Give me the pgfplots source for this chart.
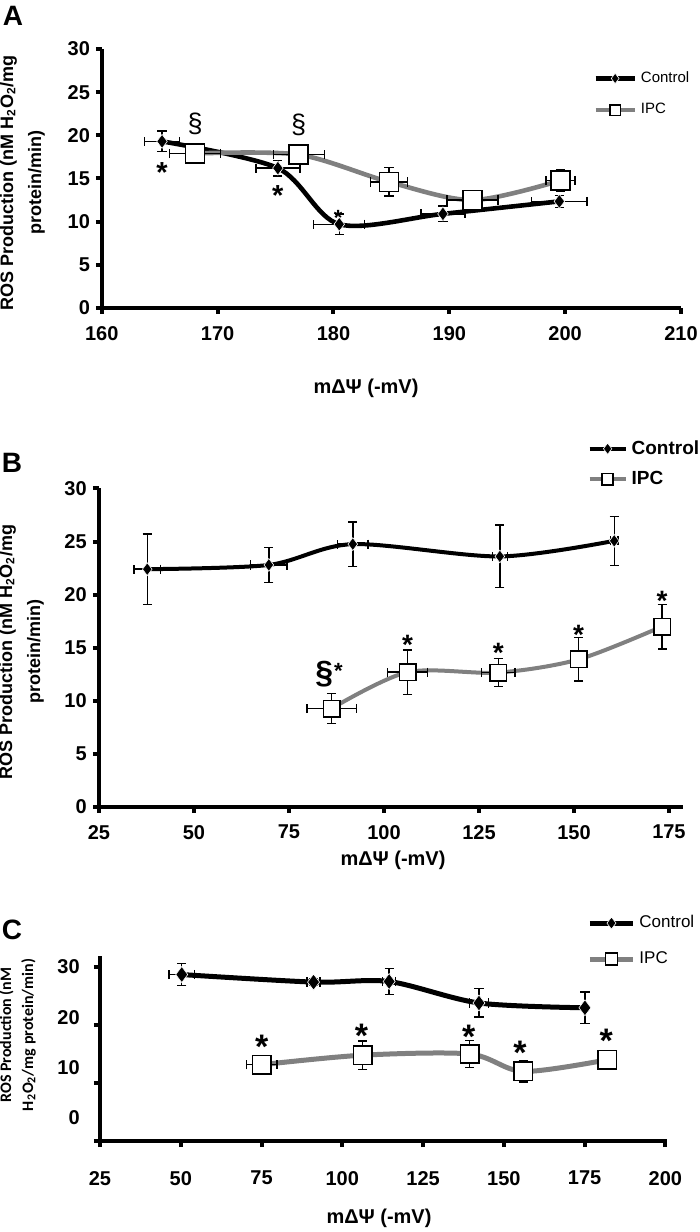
\documentclass[border=0pt]{standalone}
\usepackage{pgfplots}
\pgfplotsset{compat=1.18}
\usepackage{fontspec}
\setmainfont{Liberation Sans}
\newfontfamily\calib{Carlito}
\definecolor{ipcgray}{RGB}{128,128,128}
\pgfplotsset{
  base/.style={
    scale only axis, axis lines=left,
    axis line style={-, line width=2pt, black},
    clip=false, tick align=outside, major tick length=3pt,
    every tick/.style={black, line width=2pt},
    tick label style={font=\bfseries\fontsize{10}{12}\selectfont},
    /pgf/number format/assume math mode=true,
    legend cell align=left,
    legend style={draw=none, fill=none, inner sep=0pt, anchor=north west},
  },
  ctrl/.style={black, smooth, mark=diamond*, mark options={solid, fill=black, draw=white, line width=0.3pt}},
  ipc/.style={ipcgray, smooth, mark=square*, mark options={solid, fill=white, draw=black, line width=0.8pt}},
  eb/.style={error bars/.cd, x dir=both, x explicit, y dir=both, y explicit,
    error bar style={black, line width=0.7pt, solid},
    error mark options={rotate=90, black, line width=0.7pt, mark size=2.3pt}},
}
\begin{document}
\begin{tikzpicture}
\path[use as bounding box] (0pt,0pt) rectangle (350pt,616pt);
% ---------------- Panel A ----------------
\begin{axis}[base, at={(50.9pt,462pt)}, anchor=south west, width=289.6pt, height=129.5pt,
  xmin=160, xmax=210, ymin=0, ymax=30, xtick={160,170,...,210}, ytick={0,5,...,30},
  xticklabel style={yshift=-2.5pt}, yticklabel style={xshift=0.6pt},
  legend style={at={(0.848,0.93)}, font=\fontsize{7.5}{9}\selectfont, row sep=5pt},
  legend image code/.code={\draw[mark repeat=2,mark phase=2,#1,mark size=2.6pt] plot coordinates {(0pt,0pt) (9.75pt,0pt) (19.5pt,0pt)};}]
\addplot[ctrl, line width=2.3pt, mark size=3.5pt, eb] coordinates {
 (165.2,19.3) +- (1.5,1.2)
 (175.2,16.2) +- (1.9,0.9)
 (180.5,9.7) +- (2.2,1.2)
 (189.45,10.9) +- (1.9,0.9)
 (199.5,12.35) +- (2.4,0.7)
};
\addlegendentry{Control}
\addplot[ipc, line width=2.3pt, mark size=4.75pt, eb] coordinates {
 (168.05,17.9) +- (2.2,0.8)
 (177.0,17.76) +- (2.2,0.6)
 (184.8,14.6) +- (1.6,1.65)
 (192.0,12.5) +- (2.2,0.6)
 (199.6,14.77) +- (1.25,1.2)
};
\addlegendentry{IPC}
\node[font=\bfseries\fontsize{14.5}{16}\selectfont, anchor=base, yshift=-8.3pt] at (axis cs:165.2,16.5) {*};
\node[font=\bfseries\fontsize{14.5}{16}\selectfont, anchor=base, yshift=-8.3pt] at (axis cs:175.2,13.8) {*};
\node[font=\bfseries\fontsize{11}{12}\selectfont, anchor=base, yshift=-6.3pt] at (axis cs:180.4,11.0) {*};
\node[font=\fontsize{13.5}{15}\selectfont, anchor=base, yshift=-3.6pt] at (axis cs:168.05,21.2) {§};
\node[font=\fontsize{13.5}{15}\selectfont, anchor=base, yshift=-3.6pt] at (axis cs:177.0,21.0) {§};
\end{axis}
% ---------------- Panel B ----------------
\begin{axis}[base, at={(49.5pt,212.5pt)}, anchor=south west, width=292pt, height=159.25pt,
  xmin=25, xmax=178.7, ymin=0, ymax=30, xtick={25,50,...,175}, ytick={0,5,...,30},
  xticklabel style={yshift=-2.5pt}, yticklabel style={xshift=0.4pt},
  legend style={at={(0.836,1.165)}, font=\bfseries\fontsize{9.5}{11}\selectfont, row sep=3pt},
  legend image code/.code={\draw[mark repeat=2,mark phase=2,#1,mark size=2.8pt] plot coordinates {(0pt,0pt) (9pt,0pt) (18pt,0pt)};}]
\addplot[ctrl, line width=2pt, mark size=3.2pt, eb] coordinates {
 (37.7,22.4) +- (3.5,3.3)
 (69.7,22.8) +- (4.8,1.65)
 (91.8,24.76) +- (4,2.1)
 (130.5,23.6) +- (2,2.95)
 (160.6,25.07) +- (1,2.3)
};
\addlegendentry{Control}
\addplot[ipc, line width=2pt, mark size=4.1pt, eb] coordinates {
 (86.2,9.27) +- (6.5,1.4)
 (106.2,12.7) +- (5.2,2.1)
 (130.1,12.66) +- (4.4,1.33)
 (151.2,13.9) +- (2,2.05)
 (173.2,17.0) +- (1.5,2.1)
};
\addlegendentry{IPC}
\node[font=\bfseries\fontsize{16}{18}\selectfont, anchor=base, yshift=-4.2pt] at (axis cs:84.3,12.4) {§};
\node[font=\bfseries\fontsize{11}{12}\selectfont, anchor=base, yshift=-6.3pt] at (axis cs:88.0,13.3) {*};
\foreach \xx/\yy in {106.2/15.9,130.1/15.1,151.2/16.8,173.2/20.0}{
  \edef\tmp{\noexpand\node[font=\noexpand\bfseries\noexpand\fontsize{14}{16}\noexpand\selectfont, anchor=base, yshift=-8pt] at (axis cs:\xx,\yy) {*};}\tmp
}
\end{axis}
% ---------------- Panel C ----------------
\begin{axis}[base, at={(50pt,45.5pt)}, anchor=south west, width=283.5pt, height=92.5pt,
  xmin=25, xmax=200.5, ymin=0, ymax=31.9, xtick={25,50,...,200},
  ytick={0,10,20,30}, yticklabels={,,,},
  extra y ticks={4.1,12.6,21.2,30}, extra y tick labels={0,10,20,30},
  extra y tick style={major tick length=0pt, yticklabel style={xshift=-6.6pt}},
  xticklabel style={yshift=-8.5pt},
  legend style={at={(0.859,1.243)}, font=\fontsize{8.5}{10}\selectfont, row sep=6.5pt},
  legend image code/.code={\draw[mark repeat=2,mark phase=2,#1,mark size=3pt] plot coordinates {(0pt,0pt) (10.75pt,0pt) (21.5pt,0pt)};}]
\addplot[ctrl, line width=2.5pt, mark size=4pt, eb] coordinates {
 (50.3,28.7) +- (3.9,1.9)
 (91.1,27.4) +- (2,0.5)
 (114.5,27.5) +- (2,2.25)
 (142.3,23.8) +- (3,2.45)
 (175.1,22.97) +- (0.5,2.7)
};
\addlegendentry{Control}
\addplot[ipc, line width=2.5pt, mark size=4.6pt, eb] coordinates {
 (75.1,13.16) +- (4.7,0.3)
 (106.3,14.8) +- (1,2.45)
 (139.4,15.0) +- (1,2.3)
 (156.0,12.0) +- (1,1.8)
 (182.0,14.0) +- (0.5,0.3)
};
\addlegendentry{IPC}
\foreach \xx/\yy in {75.1/17.5,105.9/19.45,139.1/19.3,155.0/16.6,181.7/18.6}{
  \edef\tmp{\noexpand\node[font=\noexpand\bfseries\noexpand\fontsize{17}{19}\noexpand\selectfont, anchor=base, yshift=-9.7pt] at (axis cs:\xx,\yy) {*};}\tmp
}
\end{axis}
% ---------------- Texts ----------------
\node[font=\bfseries\fontsize{14}{16}\selectfont] at (6.5pt,608pt) {A};
\node[font=\bfseries\fontsize{14}{16}\selectfont] at (6pt,384.5pt) {B};
\node[font=\bfseries\fontsize{14}{16}\selectfont] at (6pt,151pt) {C};
\node[font=\bfseries\fontsize{10}{12}\selectfont] at (183pt,422pt) {mΔΨ (-mV)};
\node[font=\bfseries\fontsize{10}{12}\selectfont] at (196.5pt,186pt) {mΔΨ (-mV)};
\node[font=\bfseries\fontsize{10}{12}\selectfont] at (189.5pt,7pt) {mΔΨ (-mV)};
\node[rotate=90, align=center, font=\bfseries\fontsize{9}{14}\selectfont] at (11.25pt,524.5pt) {ROS Production (nM H\textsubscript{2}O\textsubscript{2}/mg\\protein/min)};
\node[rotate=90, align=center, font=\bfseries\fontsize{9}{14}\selectfont] at (10.75pt,290pt) {ROS Production (nM H\textsubscript{2}O\textsubscript{2}/mg\\protein/min)};
\node[rotate=90, align=center, font=\calib\bfseries\fontsize{8}{11}\selectfont] at (8.75pt,98.5pt) {ROS Production (nM\\H\textsubscript{2}O\textsubscript{2}/mg protein/min)};
\end{tikzpicture}
\end{document}
